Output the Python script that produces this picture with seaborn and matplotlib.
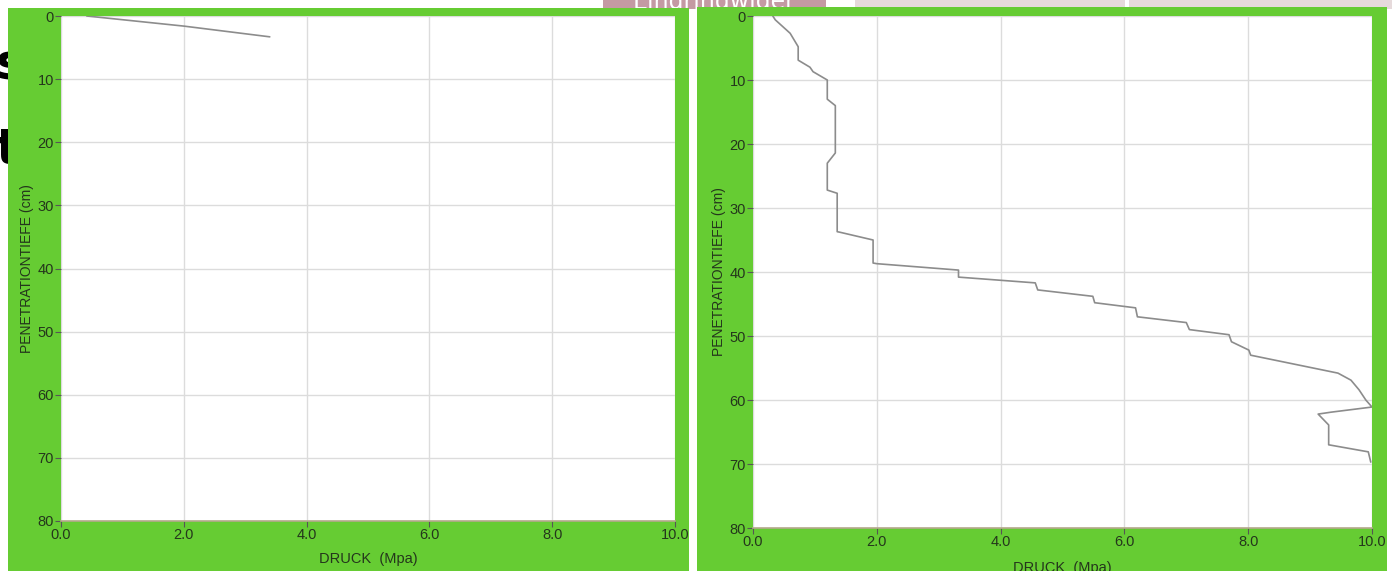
import numpy as np
import pandas as pd
import matplotlib
matplotlib.use("Agg")
import matplotlib.pyplot as plt
import seaborn as sns
from matplotlib.patches import Rectangle

# penetrometer readings: pressure (MPa) against depth (cm)
druck_links = [0.42, 2.0, 3.4]
tiefe_links = [0.0, 1.6, 3.3]

druck_rechts = [0.32, 0.36, 0.6, 0.73, 0.73, 0.92, 0.97, 1.2, 1.2, 1.33, 1.33, 1.2, 1.2,
                1.36, 1.36, 1.41, 1.94, 1.94, 2.0, 3.32, 3.32, 4.56, 4.6, 5.49, 5.52,
                6.18, 6.21, 7.0, 7.05, 7.69, 7.73, 8.01, 8.04, 9.45, 9.66, 9.79, 9.9,
                10.0, 9.34, 9.13, 9.3, 9.3, 9.94, 9.98]
tiefe_rechts = [0.0, 0.6, 2.7, 4.8, 6.9, 8.0, 8.7, 10.0, 13.0, 14.0, 21.4, 23.0, 27.2,
                27.7, 33.7, 33.8, 35.0, 38.6, 38.7, 39.7, 40.8, 41.7, 42.8, 43.8, 44.8,
                45.6, 47.0, 47.9, 49.0, 49.8, 50.9, 52.2, 53.0, 55.8, 56.9, 58.4, 60.0,
                61.1, 61.9, 62.2, 63.9, 67.0, 68.1, 69.7]

x_ticks = [0, 2, 4, 6, 8, 10]
x_labels = ["0.0", "2.0", "4.0", "6.0", "8.0", "10.0"]
y_ticks = [0, 10, 20, 30, 40, 50, 60, 70, 80]

sns.set_style("whitegrid")
plt.rcParams['font.family'] = ['Liberation Sans Narrow', 'Liberation Sans', 'DejaVu Sans']

W, H = 1392, 571
fig = plt.figure(figsize=(W / 100, H / 100), dpi=100)
fig.patch.set_facecolor("white")

def px(x0, y0, x1, y1):
    # pixel box -> figure fraction [left, bottom, width, height]
    return [x0 / W, 1 - y1 / H, (x1 - x0) / W, (y1 - y0) / H]

green = "#66cc33"
txt = "#24361c"

# background bits of the slide (cut off in the screenshot too)
fig.text(-0.003, 1 - 65 / H, "s", fontsize=36, fontweight="bold", color="black",
         va="center", ha="left", family="DejaVu Sans", zorder=1)
fig.text(-0.003, 1 - 150 / H, "t", fontsize=36, fontweight="bold", color="black",
         va="center", ha="left", family="DejaVu Sans", zorder=1)
b = px(603, 0, 826, 9)
fig.patches.append(Rectangle((b[0], b[1]), b[2], b[3], transform=fig.transFigure,
                             facecolor="#c49aa3", edgecolor="none", zorder=1))
b = px(855, 0, W, 9)
fig.patches.append(Rectangle((b[0], b[1]), b[2], b[3], transform=fig.transFigure,
                             facecolor="#e6dadb", edgecolor="none", zorder=1))
b = px(1125, 0, 1129, 9)
fig.patches.append(Rectangle((b[0], b[1]), b[2], b[3], transform=fig.transFigure,
                             facecolor="white", edgecolor="none", zorder=1))
fig.text(714 / W, 1 - 2 / H, "Eindringwider", fontsize=17, color="white",
         va="center", ha="center", family="DejaVu Sans", zorder=1.5)

# green frames
for x0, y0, x1 in [(8, 8, 689), (697, 7, 1387)]:
    b = px(x0, y0, x1, H)
    fig.patches.append(Rectangle((b[0], b[1]), b[2], b[3], transform=fig.transFigure,
                                 facecolor=green, edgecolor="none", zorder=2))

def chart(box, druck, tiefe, xpad):
    ax = fig.add_axes(px(*box))
    ax.set_zorder(3)
    ax.set_facecolor("white")
    df = pd.DataFrame({"druck": druck, "tiefe": tiefe})
    sns.lineplot(data=df, x="druck", y="tiefe", sort=False, estimator=None,
                 color="#8c8c8c", lw=1.2, ax=ax)
    ax.set_xlim(0, 10)
    ax.set_ylim(80, 0)
    ax.set_xticks(x_ticks)
    ax.set_xticklabels(x_labels)
    ax.set_yticks(y_ticks)
    ax.grid(True, color="#dcdcdc", lw=1)
    ax.tick_params(axis="both", direction="out", length=4, width=0.8, color="#555555",
                   labelsize=10.5, labelcolor=txt, pad=1, left=True, bottom=True)
    for s in ax.spines.values():
        s.set_visible(False)
    ax.spines["bottom"].set_visible(True)
    ax.spines["bottom"].set_color("#b5a98c")
    ax.spines["bottom"].set_linewidth(1.2)
    ax.set_xlabel("DRUCK  (Mpa)", fontsize=10.5, color=txt, labelpad=xpad)
    ax.set_ylabel("PENETRATIONTIEFE (cm)", fontsize=10, color=txt, labelpad=3)
    return ax

chart((61, 16, 675, 521), druck_links, tiefe_links, 7)
chart((753, 16, 1372, 528), druck_rechts, tiefe_rechts, 9)

fig.savefig("out.png", dpi=100)
